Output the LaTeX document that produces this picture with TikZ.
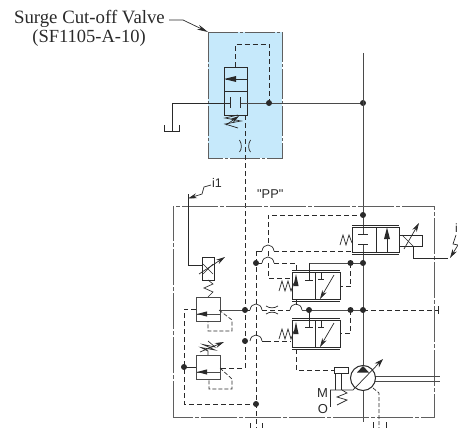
\documentclass[tikz,border=0pt]{standalone}
\usepackage{fontspec}
\setmainfont{Liberation Serif}
\newfontfamily\lsans{Liberation Sans}
\usetikzlibrary{arrows.meta}
\definecolor{ink}{HTML}{2A2A2A}
\definecolor{pale}{HTML}{C6E9FB}
\tikzset{
 thinl/.style={draw=ink,line width=0.7pt},
 mainl/.style={draw=ink!85,line width=1pt},
 pilot/.style={draw=ink,line width=0.7pt,dash pattern=on 5pt off 3pt},
 envl/.style={draw=ink!75,line width=1pt,dash pattern=on 36pt off 2pt on 4pt off 2pt},
 dotn/.style={circle,fill=ink,inner sep=0pt,minimum size=6pt},
 tipped/.style={thinl,-{Stealth[length=9pt,width=5pt]}},
 lbl/.style={inner sep=0pt,text=ink},
}
\newcommand{\bumpat}[3][thinl]{\draw[#1] (#2-6,#3) .. controls (#2-5,#3-8) and (#2+5,#3-8) .. (#2+6,#3);}
\newcommand{\reliefv}[2]{% x left, y top
 \draw[mainl] (#1,#2) rectangle ++(24,24);
 \draw[mainl] (#1,#2+17) -- ++(24,0);
 \fill[ink] (#1+1,#2+17) -- ++(10,-2.6) -- ++(0,5.2) -- cycle;
}
\newcommand{\pilotv}[2]{% x left, y top: 48 x 27
 \draw[thinl] (#1,#2) rectangle ++(48,27);
 \draw[thinl] (#1+23,#2) -- ++(0,27);
 \draw[thinl] (#1,#2-2) -- ++(48,0) (#1,#2+29) -- ++(48,0);
 \draw[thinl] (#1+29,#2) -- ++(0,7) (#1+26,#2+7) -- ++(6,0);
 \draw[tipped] (#1+42,#2+3) -- (#1+28,#2+27);
 \draw[thinl] (#1-13,#2+19) -- ++(3,-10) -- ++(3,10) -- ++(3,-10) -- ++(3,10) -- ++(3,-8);
 \fill[ink] (#1+4,#2+2) -- ++(-2.6,12) -- ++(5.2,0) -- cycle;
}
\begin{document}
\begin{tikzpicture}[x=1pt,y=-1pt]
\useasboundingbox (0,0) rectangle (458,428);
% named junctions
\coordinate (mainTop) at (363,53);
\coordinate (j215) at (363,215);
\coordinate (j263) at (363,263);
\coordinate (j310) at (363,310);
\coordinate (pumpC) at (363,378);
\coordinate (corner) at (208,32);
% blue cartridge
\draw[envl,fill=pale,line width=0.8pt,dash pattern=on 30pt off 2pt on 3pt off 2pt] (208,32) rectangle (282,158);
% label and leader
\node[lbl,anchor=base east,font=\fontsize{18.8}{20}\selectfont] (title) at (165,24) {Surge Cut-off Valve};
\node[lbl,anchor=base east,font=\fontsize{18.5}{20}\selectfont] (code) at (146,43) {(SF1105-A-10)};
\draw[thinl,-{Stealth[length=11pt,width=5pt]}] (169,20) -- (183,20) -- (corner);
% surge valve
\draw[pilot] (235.5,67) -- (235.5,44) -- (269,44) -- (269,103);
\draw[thinl,line width=0.9pt] (224,67) rectangle (247,115);
\draw[thinl] (224,91) -- (247,91);
\draw[thinl] (247,79) -- (226,79);
\fill[ink] (224,79) -- (236,76) -- (236,82) -- cycle;
\draw[thinl] (164,125) -- (164,131) -- (179,131) -- (179,125);
\draw[thinl] (172,131) -- (172,103) -- (230,103);
\draw[mainl] (240,103) -- (363,103);
\draw[thinl] (230,97) -- (230,108) (240,97) -- (240,108);
\draw[thinl] (238,115) -- (225,118) -- (241,121) -- (225,124) -- (238,128);
\draw[tipped] (226,125) -- (239,116);
\draw[pilot] (245,115) -- (245,368) -- (220,368);
\draw[thinl] (239.5,140) .. controls (242,144) and (242,149) .. (239.5,152);
\draw[thinl] (250.5,140) .. controls (248,144) and (248,149) .. (250.5,152);
\node[dotn] (d269) at (269,103) {};
\node[dotn] (d363) at (363,103) {};
% main vertical
\draw[mainl] (mainTop) -- (363,234);
\draw[mainl] (363,244) -- (363,366);
\draw[mainl] (363,390) -- (363,422);
% envelope
\draw[envl] (173,417) -- (173,206) -- (434,206) -- (434,417) -- cycle;
% i1 wiring
\draw[thinl] (188,194) -- (188,265) -- (202,265);
\draw[tipped] (211,185) -- (204,187) -- (202,194) -- (188,198.5);
\node[lbl,font=\lsans\fontsize{12.5}{14}\selectfont,anchor=base west] (i1) at (212,187) {i1};
\node[lbl,font=\lsans\fontsize{12.8}{14}\selectfont,anchor=base west] (pp) at (257,198) {"PP"};
% solenoid relief head
\draw[thinl] (202,257) rectangle (214,280);
\draw[thinl] (203,264) -- (213,274) (213,264) -- (203,274);
\draw[tipped] (199,274) -- (225,257);
\draw[thinl] (208,280) -- (213,284) -- (204,288) -- (213,292) -- (208,297);
% relief valve 1
\reliefv{196}{297}
\draw[mainl] (220,310) -- (245,310);
\draw[thinl,dash pattern=on 4pt off 2pt] (219,310) -- (232,320) -- (232,331) -- (208,331) -- (208,321);
\draw[pilot] (196,309) -- (184,309) -- (184,404) -- (256,404);
% relief valve 2
\reliefv{196}{355}
\draw[thinl] (184,367) -- (196,367);
\draw[thinl,dash pattern=on 4pt off 2pt] (220,368) -- (232,379) -- (232,389) -- (209,389) -- (209,379);
\draw[thinl] (208,355) -- (208,351) -- (201,347.5) -- (215,350) -- (203,344.5) -- (215,347) -- (208,341);
\draw[tipped] (200,352) -- (224,342);
\node[dotn] (d184) at (184,367) {};
\node[dotn] (d245a) at (245,310) {};
\node[dotn] (d245b) at (245,341) {};
\node[dotn] (d256) at (256,263) {};
\node[dotn] (d256b) at (256,404) {};
% dashed x=256
\draw[pilot] (256,251) -- (256,428);
\draw[thinl] (256,251) -- (262,251);
\bumpat{268}{251}
\bumpat{268}{263}
\bumpat{256}{310}
\bumpat{256}{341}
\bumpat{296}{310}
\draw[pilot] (274,251) -- (352,251);
\draw[thinl] (256,263) -- (262,263);
\draw[pilot] (274,263) -- (296,263) -- (296,270);
\draw[pilot] (268,243) -- (268,215) -- (j215);
\draw[pilot] (268,251) -- (268,257);
\draw[pilot] (268,263) -- (268,278) -- (291,278);
% y=341 line
\draw[thinl] (262,341) -- (266,341);
\draw[pilot] (266,341) -- (291,341);
% y=310 line and orifice
\draw[thinl] (245,310) -- (250,310);
\draw[pilot] (262,310) -- (290,310);
\draw[thinl] (266,306) .. controls (270,308.5) and (274,308.5) .. (278,306);
\draw[thinl] (266,314) .. controls (270,311.5) and (274,311.5) .. (278,314);
\draw[mainl] (302,310) -- (363,310);
\draw[pilot] (363,310) -- (438,310);
\draw[thinl] (438,306) -- (438,314);
% pilot valves
\pilotv{292}{272}
\pilotv{292}{320}
\draw[mainl] (309,263) -- (363,263);
\draw[thinl] (309,263) -- (309,280) (305,280) -- (313,280);
\draw[thinl] (309,310) -- (309,327) (305,327) -- (313,327);
\draw[thinl] (296,299) -- (296,305);
\draw[pilot] (350.5,263) -- (350.5,286);
\draw[pilot] (350.5,286) -- (340,286);
\draw[pilot] (350.5,310) -- (350.5,333) -- (340,333);
\draw[pilot] (296,349) -- (296,370) -- (334,370);
% top valve
\draw[thinl,line width=0.9pt] (352,227) rectangle (399,252);
\draw[thinl] (352,225) -- (399,225) (352,254) -- (399,254);
\draw[thinl] (376,227) -- (376,252);
\draw[thinl] (387,252) -- (387,235);
\fill[ink] (387,227.5) -- (384,239) -- (390,239) -- cycle;
\draw[thinl] (358,234) -- (368,234) (358,244) -- (368,244);
\draw[thinl] (340,245) -- (343,235) -- (346,245) -- (349,235) -- (352,243);
\draw[thinl] (399,235) rectangle (422,246);
\draw[thinl] (402,235) -- (413,246);
\draw[tipped] (404,249) -- (419,223);
\draw[thinl] (413,246) -- (413,258) -- (448,258);
\draw[tipped] (456,235) -- (453,244) -- (458,245) -- (450,258);
\node[lbl,font=\lsans\fontsize{12}{14}\selectfont,anchor=base west] (i2) at (455,232) {i};
% dots
\node[dotn] (d215) at (j215) {};
\node[dotn] (d263a) at (350.5,263) {};
\node[dotn] (d263b) at (j263) {};
\node[dotn] (d310a) at (309,310) {};
\node[dotn] (d310b) at (350.5,310) {};
\node[dotn] (d310c) at (j310) {};
% pump
\draw[mainl] (375,376) -- (440,376) (375,381) -- (440,381);
\draw[thinl,line width=1pt] (pumpC) circle (12.5);
\fill[ink] (363,366) -- (357,372.5) -- (369,372.5) -- cycle;
\draw[thinl,-{Stealth[length=9pt,width=6pt]}] (330,390) -- (353,390) -- (383,359);
\draw[thinl] (330,390) -- (330,407);
\draw[thinl] (334,367) rectangle (348,373);
\draw[thinl] (335,373) -- (335,390) (341,373) -- (341,390);
\draw[thinl] (342,390) -- (347,393) -- (337,397) -- (347,400) -- (337,405);
\node[lbl,font=\lsans\fontsize{13}{15}\selectfont] (mm) at (322.5,393) {M};
\node[lbl,font=\lsans\fontsize{13}{15}\selectfont] (oo) at (323,409) {O};
\draw[thinl,dash pattern=on 4pt off 2pt] (373,388) -- (379,393) -- (379,428);
% bottom ticks
\draw[thinl] (250,423) -- (250,428) (262,423) -- (262,428);
\draw[thinl] (373,422) -- (373,428) (386,422) -- (386,428);
\end{tikzpicture}
\end{document}
